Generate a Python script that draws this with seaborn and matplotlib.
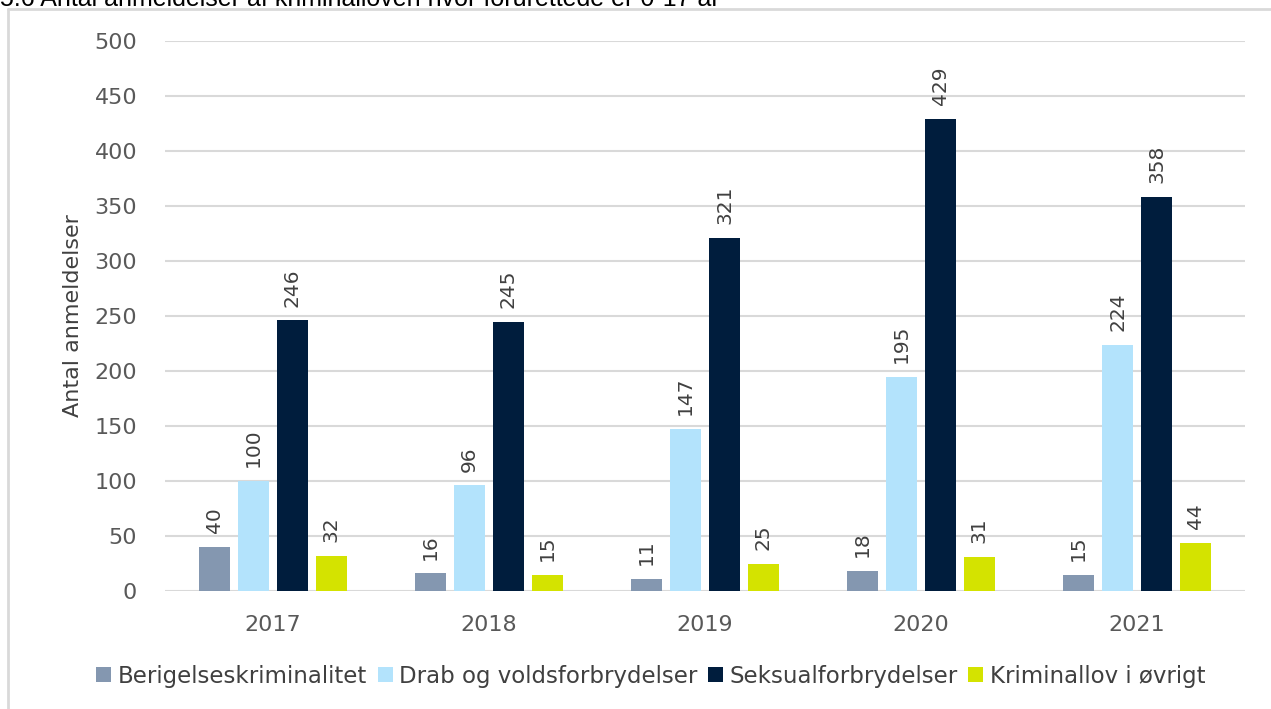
import matplotlib
matplotlib.use("Agg")
import matplotlib.pyplot as plt
from matplotlib.lines import Line2D
import seaborn as sns
import pandas as pd

years = ["2017", "2018", "2019", "2020", "2021"]
categories = ["Berigelseskriminalitet", "Drab og voldsforbrydelser", "Seksualforbrydelser", "Kriminallov i øvrigt"]
berigelse = [40, 16, 11, 18, 15]
drab = [100, 96, 147, 195, 224]
seksual = [246, 245, 321, 429, 358]
kriminallov = [32, 15, 25, 31, 44]
colors = ["#8497B0", "#B3E3FC", "#001D3D", "#D4E300"]

series = [berigelse, drab, seksual, kriminallov]
rows = []
for cat, vals in zip(categories, series):
    for y, v in zip(years, vals):
        rows.append({"År": y, "Kategori": cat, "Antal": v})
df = pd.DataFrame(rows)

sns.set_theme(style="white")
plt.rcParams["font.family"] = ["DejaVu Sans"]

W, H = 1271, 709
fig = plt.figure(figsize=(W / 100, H / 100), dpi=100)
ax = fig.add_axes([165 / W, 1 - 591 / H, (1245 - 165) / W, (591 - 41) / H])

sns.barplot(data=df, x="År", y="Antal", hue="Kategori", hue_order=categories,
            palette=colors, saturation=1, width=0.72, gap=0.2, ax=ax, legend=True,
            edgecolor="none", linewidth=0, errorbar=None)

ax.set_ylim(0, 500)
ax.set_yticks(range(0, 501, 50))
ax.set_xlim(-0.5, 4.5)
ax.yaxis.grid(True, color="#D9D9D9", linewidth=1.5)
ax.set_axisbelow(True)
for s in ax.spines.values():
    s.set_visible(False)
ax.tick_params(axis="y", length=0, pad=20, labelsize=16, labelcolor="#595959")
ax.tick_params(axis="x", length=0, pad=17, labelsize=16, labelcolor="#595959")
ax.set_xlabel("")
ax.set_ylabel("Antal anmeldelser", fontsize=16, color="#404040", labelpad=8)

for cont in ax.containers:
    ax.bar_label(cont, rotation=90, padding=10, fontsize=14.5, color="#404040")

handles, labels = ax.get_legend_handles_labels()
ax.get_legend().remove()
fig.legend(handles, labels, loc="center", bbox_to_anchor=(651 / W, 1 - 676 / H),
           ncol=4, frameon=False, fontsize=16.5, handlelength=0.65, handleheight=0.65,
           handletextpad=0.3, columnspacing=0.45, labelcolor="#404040")

# outer frame (top and left)
fig.add_artist(Line2D([8 / W, 8 / W], [0, 1 - 9 / H], transform=fig.transFigure,
                      color="#D9D9D9", linewidth=2))
fig.add_artist(Line2D([8 / W, 1], [1 - 9 / H, 1 - 9 / H], transform=fig.transFigure,
                      color="#D9D9D9", linewidth=2))

# partially clipped title (as in the reference)
fig.text(0.0, 1 - 6 / H, "5.6 Antal anmeldelser af kriminalloven hvor forurettede er 0-17 år",
         fontsize=18, family=["Liberation Sans", "DejaVu Sans"], va="baseline", ha="left",
         color="#000000")

fig.savefig("out.png", dpi=100)
